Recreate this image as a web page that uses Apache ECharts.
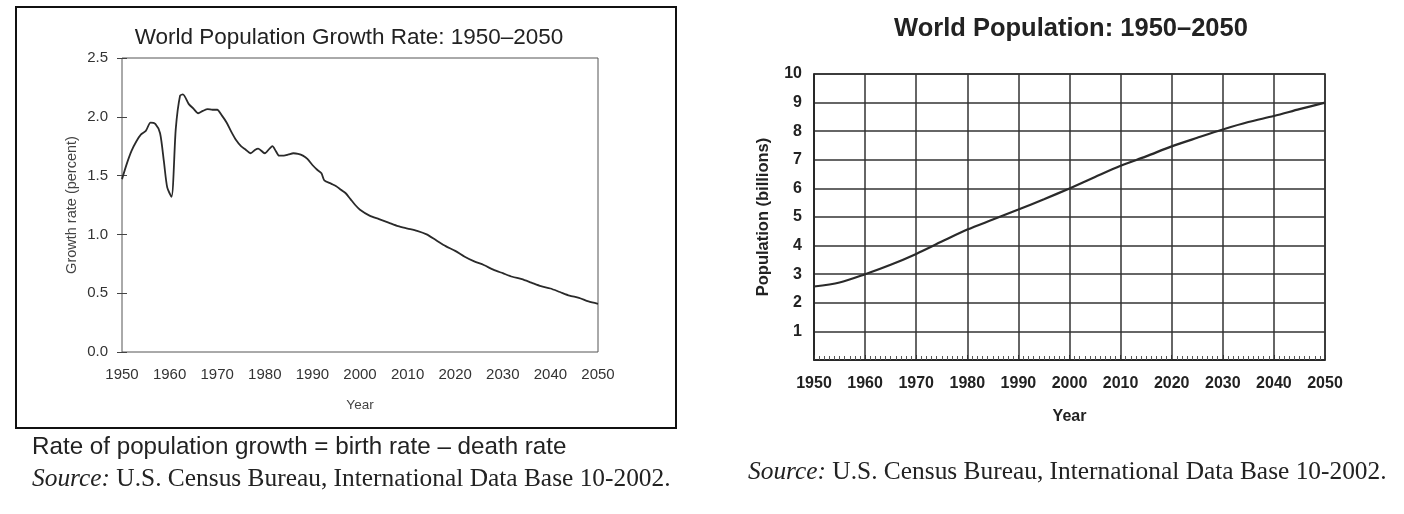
<!DOCTYPE html>
<html lang="en">
<head>
<meta charset="UTF-8">
<title>World Population</title>
<script src="https://cdn.jsdelivr.net/npm/echarts@6/dist/echarts.min.js"></script>
<style>
  html, body { margin: 0; padding: 0; background: #fff; }
  #container { width: 1404px; height: 514px; }
</style>
</head>
<body>
<div id="container"></div>
<script>
// growth rate (percent)
const rateYears = [1950, 1951, 1952, 1953, 1954, 1955, 1956, 1957, 1958, 1958.8, 1959.5, 1960.4,
  1961.3, 1962.2, 1962.8, 1964, 1965, 1966, 1967, 1968, 1969, 1970, 1971, 1972, 1973, 1974,
  1975, 1976, 1977, 1978, 1978.6, 1980, 1981, 1981.6, 1982.3, 1983, 1984, 1985, 1986, 1987,
  1988, 1989, 1990, 1991, 1991.9, 1992.5, 1994, 1995, 1996, 1997, 1998, 1999, 2000, 2002,
  2004, 2006, 2008, 2010, 2012, 2014, 2016, 2018, 2020, 2022, 2024, 2026, 2028, 2030, 2032,
  2034, 2036, 2038, 2040, 2042, 2044, 2046, 2048, 2050];
const rateValues = [1.47, 1.60, 1.71, 1.79, 1.85, 1.88, 1.95, 1.94, 1.86, 1.62, 1.40, 1.32,
  1.90, 2.18, 2.19, 2.11, 2.07, 2.03, 2.05, 2.065, 2.06, 2.06, 2.01, 1.95, 1.87, 1.80,
  1.75, 1.72, 1.69, 1.72, 1.73, 1.69, 1.73, 1.75, 1.71, 1.67, 1.67, 1.68, 1.69, 1.685,
  1.67, 1.64, 1.59, 1.55, 1.52, 1.46, 1.43, 1.41, 1.38, 1.35, 1.30, 1.25, 1.21, 1.16,
  1.13, 1.10, 1.07, 1.05, 1.03, 1.00, 0.95, 0.90, 0.86, 0.81, 0.77, 0.74, 0.70, 0.67, 0.64,
  0.62, 0.59, 0.56, 0.54, 0.51, 0.48, 0.46, 0.43, 0.41];

// population (billions)
const popYears = [1950, 1955, 1960, 1965, 1970, 1975, 1980, 1985, 1990, 1995, 2000,
  2005, 2010, 2015, 2020, 2025, 2030, 2035, 2040, 2045, 2050];
const popValues = [2.57, 2.71, 3.0, 3.33, 3.71, 4.14, 4.56, 4.91, 5.26, 5.62, 6.0,
  6.40, 6.79, 7.12, 7.47, 7.77, 8.06, 8.32, 8.53, 8.77, 9.0];

const rateTicks = [0, 0.5, 1.0, 1.5, 2.0, 2.5];
const popTicks = [1, 2, 3, 4, 5, 6, 7, 8, 9, 10];

const SANS = '"Liberation Sans", Arial, sans-serif';
const SERIF = '"Liberation Serif", "Times New Roman", serif';

const rateData = rateYears.map((y, i) => [y, rateValues[i]]);
const popData = popYears.map((y, i) => [y, popValues[i]]);

const chart = echarts.init(document.getElementById('container'), null, { renderer: 'canvas' });

const leftY = {
  gridIndex: 0, type: 'value', position: 'left', min: 0, max: 2.5, interval: 0.5,
  axisLine: { show: false },
  splitLine: { show: false },
};

const sourceText = (left, top) => ({
  type: 'text', left, top,
  style: {
    text: '{i|Source:} U.S. Census Bureau, International Data Base 10-2002.',
    font: '25.4px ' + SERIF, fill: '#222',
    rich: { i: { fontStyle: 'italic', fontFamily: SERIF, fontSize: 25.4, fill: '#222' } }
  }
});

chart.setOption({
  animation: false,
  title: [
    {
      text: 'World Population Growth Rate: 1950–2050',
      left: 344, top: 21, textAlign: 'center',
      textStyle: { fontFamily: SANS, fontSize: 22.5, fontWeight: 'normal', color: '#222' }
    },
    {
      text: 'World Population: 1950–2050',
      left: 1066, top: 11, textAlign: 'center',
      textStyle: { fontFamily: SANS, fontSize: 25.5, fontWeight: 'bold', color: '#222' }
    }
  ],
  grid: [
    { left: 122, top: 58, width: 476, height: 294, show: true, borderColor: '#555', borderWidth: 1 },
    { left: 814, top: 74, width: 511, height: 286, show: true, borderColor: '#222', borderWidth: 1.5 }
  ],
  xAxis: [
    {
      gridIndex: 0, type: 'value', min: 1950, max: 2050, interval: 10,
      name: 'Year', nameLocation: 'middle', nameGap: 46,
      nameTextStyle: { fontFamily: SANS, fontSize: 13.5, color: '#444' },
      axisLine: { show: false }, axisTick: { show: false }, splitLine: { show: false },
      axisLabel: { margin: 15, fontFamily: SANS, fontSize: 15, color: '#333', formatter: v => String(v) }
    },
    {
      gridIndex: 1, type: 'value', min: 1950, max: 2050, interval: 10,
      name: 'Year', nameLocation: 'middle', nameGap: 49,
      nameTextStyle: { fontFamily: SANS, fontSize: 16, fontWeight: 'bold', color: '#222' },
      axisLine: { show: true, lineStyle: { color: '#222', width: 1.5 } },
      axisTick: { show: true, inside: true, length: 5, lineStyle: { color: '#333' } },
      minorTick: { show: true, splitNumber: 10, length: 4, lineStyle: { color: '#555', width: 1 } },
      splitLine: { show: true, lineStyle: { color: '#333', width: 1.5 } },
      axisLabel: { margin: 16, fontFamily: SANS, fontSize: 16, fontWeight: 'bold', color: '#222',
        formatter: v => String(v) }
    }
  ],
  yAxis: [
    Object.assign({}, leftY, {
      name: 'Growth rate (percent)', nameLocation: 'middle', nameGap: 43,
      nameTextStyle: { fontFamily: SANS, fontSize: 14.5, color: '#444' },
      axisTick: { show: true, inside: false, length: 5, lineStyle: { color: '#444' } },
      axisLabel: { margin: 14, fontFamily: SANS, fontSize: 15, color: '#333',
        formatter: v => rateTicks.includes(v) ? v.toFixed(1) : '' }
    }),
    Object.assign({}, leftY, {
      axisTick: { show: true, inside: true, length: 5, lineStyle: { color: '#444' } },
      axisLabel: { show: false }
    }),
    {
      gridIndex: 1, type: 'value', position: 'left', min: 0, max: 10, interval: 1,
      name: 'Population (billions)', nameLocation: 'middle', nameGap: 42,
      nameTextStyle: { fontFamily: SANS, fontSize: 16.5, fontWeight: 'bold', color: '#222' },
      axisLine: { show: true, lineStyle: { color: '#222', width: 1.5 } },
      axisTick: { show: false },
      splitLine: { show: true, lineStyle: { color: '#333', width: 1.5 } },
      axisLabel: { margin: 12, fontFamily: SANS, fontSize: 16, fontWeight: 'bold', color: '#222',
        formatter: v => popTicks.includes(v) ? String(v) : '' }
    }
  ],
  series: [
    {
      type: 'line', xAxisIndex: 0, yAxisIndex: 0, data: rateData,
      showSymbol: false, smooth: 0.25,
      lineStyle: { color: '#2a2a2a', width: 1.8 }
    },
    {
      type: 'line', xAxisIndex: 1, yAxisIndex: 2, data: popData,
      showSymbol: false, smooth: 0.3,
      lineStyle: { color: '#2a2a2a', width: 2.2 }
    }
  ],
  graphic: [
    {
      type: 'rect', shape: { x: 16, y: 7, width: 660, height: 421 },
      style: { fill: 'none', stroke: '#111', lineWidth: 2 }
    },
    {
      type: 'text', left: 32, top: 435,
      style: { text: 'Rate of population growth = birth rate – death rate',
        font: '24.2px ' + SANS, fill: '#222' }
    },
    sourceText(32, 467),
    sourceText(748, 460)
  ]
});
</script>
</body>
</html>
